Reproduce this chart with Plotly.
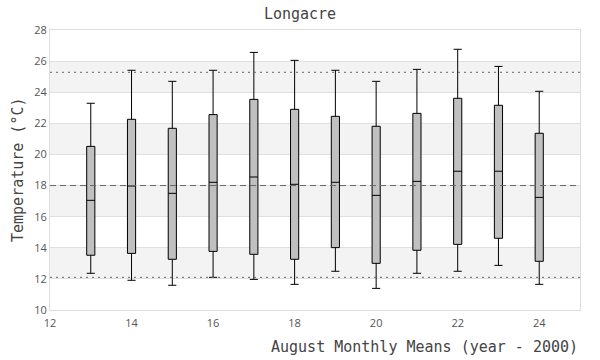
import plotly.graph_objects as go

years = [13, 14, 15, 16, 17, 18, 19, 20, 21, 22, 23, 24]
upper = [23.29, 25.41, 24.70, 25.41, 26.56, 26.05, 25.41, 24.70, 25.47, 26.76, 25.66, 24.06]
q3 = [20.52, 22.26, 21.68, 22.56, 23.54, 22.90, 22.45, 21.81, 22.64, 23.61, 23.16, 21.36]
median = [17.05, 17.97, 17.50, 18.21, 18.55, 18.08, 18.21, 17.37, 18.27, 18.92, 18.92, 17.24]
q1 = [13.52, 13.64, 13.26, 13.77, 13.58, 13.26, 14.01, 13.00, 13.84, 14.22, 14.61, 13.13]
lower = [12.36, 11.91, 11.59, 12.10, 11.97, 11.65, 12.49, 11.39, 12.36, 12.49, 12.87, 11.65]

mean_line = 18.0
upper_ref = 25.28
lower_ref = 12.10
bands = [(12, 14), (16, 18), (20, 22), (24, 26)]

fig = go.Figure()
fig.add_trace(go.Box(
    x=years, q1=q1, median=median, q3=q3,
    lowerfence=lower, upperfence=upper,
    width=0.2, whiskerwidth=1,
    fillcolor="#c0c0c0",
    line=dict(color="black", width=1),
    boxpoints=False, hoverinfo="skip", showlegend=False,
))

shapes = []
for a, b in bands:
    shapes.append(dict(type="rect", xref="paper", yref="y", x0=0, x1=1, y0=a, y1=b,
                       fillcolor="#f3f3f3", line_width=0, layer="below"))
shapes.append(dict(type="line", xref="paper", yref="y", x0=0, x1=1, y0=mean_line, y1=mean_line,
                   line=dict(color="#666666", width=1, dash="6px,4px")))
for v in (upper_ref, lower_ref):
    shapes.append(dict(type="line", xref="paper", yref="y", x0=0, x1=1, y0=v, y1=v,
                       line=dict(color="#666666", width=1, dash="2px,4px")))

mono = "DejaVu Sans Mono"
fig.update_layout(
    width=600, height=360,
    margin=dict(l=50, r=20, t=30, b=50, autoexpand=False),
    paper_bgcolor="white", plot_bgcolor="white",
    shapes=shapes,
    title=dict(text="Longacre", x=0.5, xanchor="center", y=1 - 14 / 360, yanchor="middle",
               font=dict(family=mono, size=15, color="#444444")),
    xaxis=dict(range=[12, 25], tickmode="array", tickvals=[12, 14, 16, 18, 20, 22, 24],
               showgrid=False, zeroline=False, showline=True, mirror=True, automargin=False,
               linecolor="#dddddd", linewidth=1, ticklabelstandoff=3,
               tickfont=dict(family="Open Sans", size=11, color="#555555")),
    yaxis=dict(range=[10, 28], dtick=2, showgrid=True, gridcolor="#e0e0e0", gridwidth=1,
               zeroline=False, showline=True, mirror=True, automargin=False,
               linecolor="#dddddd", linewidth=1,
               tickfont=dict(family="Open Sans", size=11, color="#555555")),
)

fig.add_annotation(text="August Monthly Means (year - 2000)", xref="paper", yref="paper",
                   x=1.0, xanchor="right", y=-37 / 280, yanchor="middle", showarrow=False,
                   font=dict(family=mono, size=15, color="#444444"))
fig.add_annotation(text="Temperature (°C)", xref="paper", yref="paper",
                   x=(18 - 50) / 530, xanchor="center", y=(310 - 170) / 280, yanchor="middle",
                   textangle=-90, showarrow=False,
                   font=dict(family=mono, size=15, color="#444444"))

fig.write_html("out.html", config={"displayModeBar": False},
               post_script="document.body.style.margin='0';")
